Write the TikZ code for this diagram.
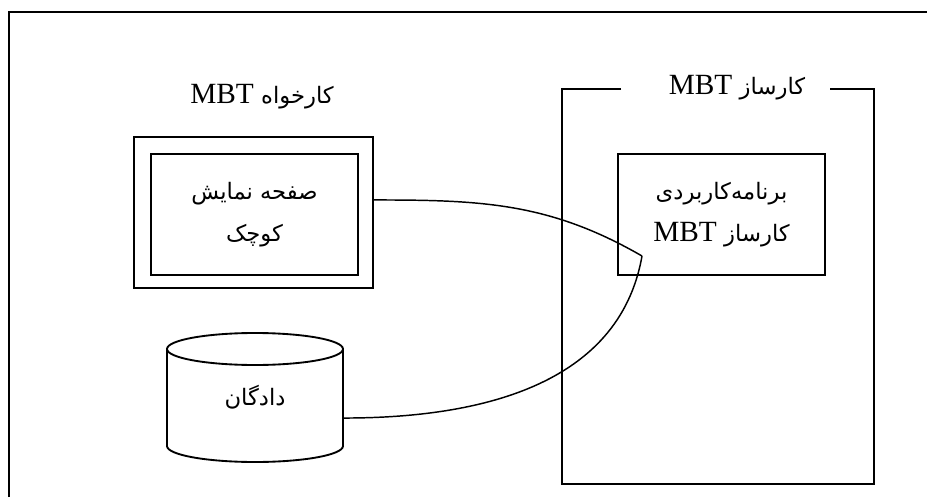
\documentclass[tikz,border=0pt]{standalone}
\usepackage{fontspec}
\setmainfont{Liberation Serif}
\newfontfamily\farsi[Script=Arabic]{DejaVu Sans}
\TeXXeTstate=1
\newcommand{\fatext}[1]{{\farsi\fontsize{17}{31}\selectfont #1}}

\begin{document}
\begin{tikzpicture}
  [x=0.75pt, y=0.75pt, line width=1.4pt,
   box/.style={rectangle, inner sep=0pt},
   lbl/.style={inner sep=0pt, align=center, font=\fontsize{22}{31}\selectfont}]
    \useasboundingbox (0,0) rectangle (927,497);
    \draw (9,0) -- (9,485) -- (927,485);
    % client side
    \node[box, draw, minimum width=239*0.75pt, minimum height=151*0.75pt]
      (client) at (253.5,284.5) {};
    \node[box, draw, minimum width=207*0.75pt, minimum height=121*0.75pt, lbl]
      (screen) at (254.5,282.5)
      {\beginR\fatext{صفحه نمایش}\endR\\\beginR\fatext{کوچک}\endR};
    \node[lbl] (clientlbl) at (262,400) {\beginR\fatext{کارخواه} MBT\endR};
    % server side
    \node[box, minimum width=310*0.75pt, minimum height=393*0.75pt]
      (server) at (718,210.5) {};
    \node[lbl] (serverlbl) at (737,409) {\beginR\fatext{کارساز} MBT\endR};
    \draw ([xshift=-35pt]serverlbl.west |- server.north) -- (server.north west)
      -- (server.south west) -- (server.south east) -- (server.north east)
      -- ([xshift=18pt]serverlbl.east |- server.north);
    \node[box, draw, minimum width=207*0.75pt, minimum height=121*0.75pt, lbl]
      (app) at (721.5,282.5)
      {\beginR\fatext{برنامه‌کاربردی}\endR\\\beginR\fatext{کارساز} MBT\endR};
    % data store
    \draw (255,148) ellipse [x radius=88, y radius=16];
    \draw (167,148) -- (167,51) arc [start angle=180, end angle=360,
      x radius=88, y radius=16] -- (343,148);
    \node[box, minimum width=176*0.75pt, minimum height=129*0.75pt, lbl]
      (db) at (255,99.5) {\beginR\fatext{دادگان}\endR};
    % links
    \coordinate (meet) at (642,241);
    \draw[line width=1.1pt] ([yshift=9.4pt]client.east) to[out=0, in=150] (meet);
    \draw[line width=1.1pt] ([yshift=-15.4pt]db.east) to[out=0, in=-100] (meet);
\end{tikzpicture}
\end{document}
